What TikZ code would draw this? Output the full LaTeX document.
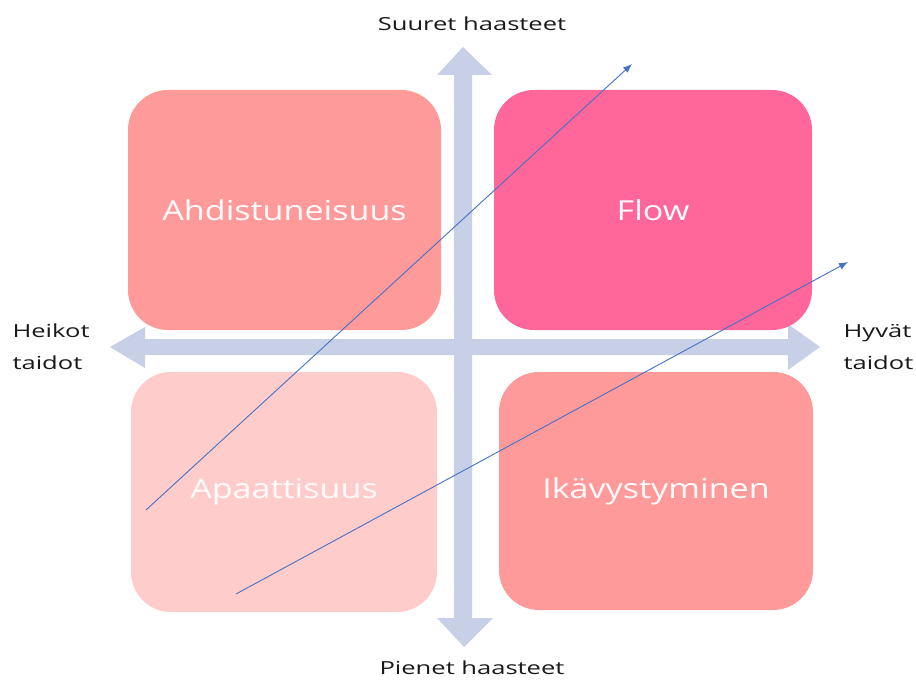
\documentclass[tikz,border=0pt]{standalone}
\usepackage{fontspec}
\setmainfont{Open Sans}
\newfontfamily\labelfont[FakeStretch=1.42]{Open Sans}
\newfontfamily\quadfont[FakeStretch=1.24]{Open Sans}
\usetikzlibrary{arrows.meta}
\begin{document}
\begin{tikzpicture}[x=1pt,y=-1pt,
  quad/.style={rounded corners=40pt, minimum width=#1, inner sep=0pt,
    text=white!94!pink, font=\quadfont\fontsize{27.5}{32}\selectfont},
  axislabel/.style={font=\labelfont\fontsize{18}{32}\selectfont, text=black!90},
  trend/.style={draw={rgb,255:red,68;green,114;blue,196}, line width=0.9pt,
    -{Latex[length=9pt,width=7pt]}},
]
\definecolor{axisblue}{RGB}{200,208,232}
\definecolor{salmon}{RGB}{255,154,154}
\definecolor{hotpink}{RGB}{255,102,153}
\definecolor{blush}{RGB}{255,204,204}
\useasboundingbox (0,0) rectangle (916,682);
\fill[white] (0,0) rectangle (916,682);

% vertical axis (challenges)
\fill[axisblue] (463,47) -- (492,75) -- (472,75) -- (472,618) -- (493,618)
  -- (464,647) -- (437,618) -- (454,618) -- (454,75) -- (437,75) -- cycle;
% horizontal axis (skills)
\fill[axisblue] (110,347) -- (145,327) -- (145,339) -- (788,339) -- (788,324)
  -- (820,347) -- (788,370) -- (788,355) -- (145,355) -- (145,368) -- cycle;

% quadrants
\node[quad=313pt, minimum height=240pt, fill=salmon] (anx) at (284.5,210) {Ahdistuneisuus};
\node[quad=318pt, minimum height=240pt, fill=hotpink] (flow) at (653,210) {Flow};
\node[quad=306pt, minimum height=240pt, fill=blush] (apa) at (284,492) {Apaattisuus};
\node[quad=314pt, minimum height=238pt, fill=salmon] (bore) at (656,491) {Ikävystyminen};

% axis labels
\node[axislabel] (hi) at (472,24) {Suuret haasteet};
\node[axislabel] (lo) at (472,668) {Pienet haasteet};
\node[axislabel, align=left, anchor=west] (weak) at (9,347) {Heikot\\taidot};
\node[axislabel, align=left, anchor=west] (good) at (840,347) {Hyvät\\taidot};

% development paths
\coordinate (p1s) at (146,510);
\coordinate (p1e) at (632,64);
\coordinate (p2s) at (236,594);
\coordinate (p2e) at (848,262);
\draw[trend] (p1s) -- (p1e);
\draw[trend] (p2s) -- (p2e);
\end{tikzpicture}
\end{document}
